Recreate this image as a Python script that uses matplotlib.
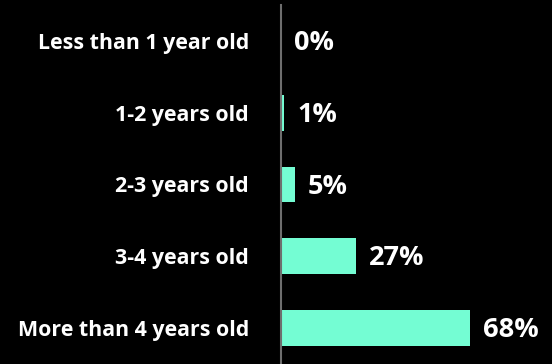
import matplotlib.pyplot as plt

# Survey: age of devices
categories = ["Less than 1 year old", "1-2 years old", "2-3 years old",
              "3-4 years old", "More than 4 years old"]
shares = [0, 1, 5, 27, 68]

bar_color = "#74fdd3"
font = "Open Sans"

fig = plt.figure(figsize=(5.52, 3.64), dpi=100, facecolor="black")
ax = fig.add_axes([281 / 552, 0, 250 / 552, 359 / 364], facecolor="black")

ypos = list(range(len(categories)))
ax.barh(ypos, shares, height=0.5, color=bar_color)

ax.set_xlim(0, 90)
ax.set_ylim(4.5, -0.5)

# value labels just past the end of each bar
for y, v in zip(ypos, shares):
    ax.annotate(f"{v}%", xy=(v, y), xytext=(9.5, -1.5), textcoords="offset points",
                ha="left", va="center", color="white", fontsize=19.5,
                fontweight="bold", family=font)

ax.set_yticks(ypos)
ax.set_yticklabels(categories, color="white", fontsize=15.4,
                   fontweight="bold", family=font)
ax.tick_params(axis="y", length=0, pad=23)
ax.set_xticks([])

for side in ["top", "right", "bottom"]:
    ax.spines[side].set_visible(False)
ax.spines["left"].set_color("#6e6e6e")
ax.spines["left"].set_linewidth(1.5)

fig.savefig("out.png", dpi=100, facecolor="black")
